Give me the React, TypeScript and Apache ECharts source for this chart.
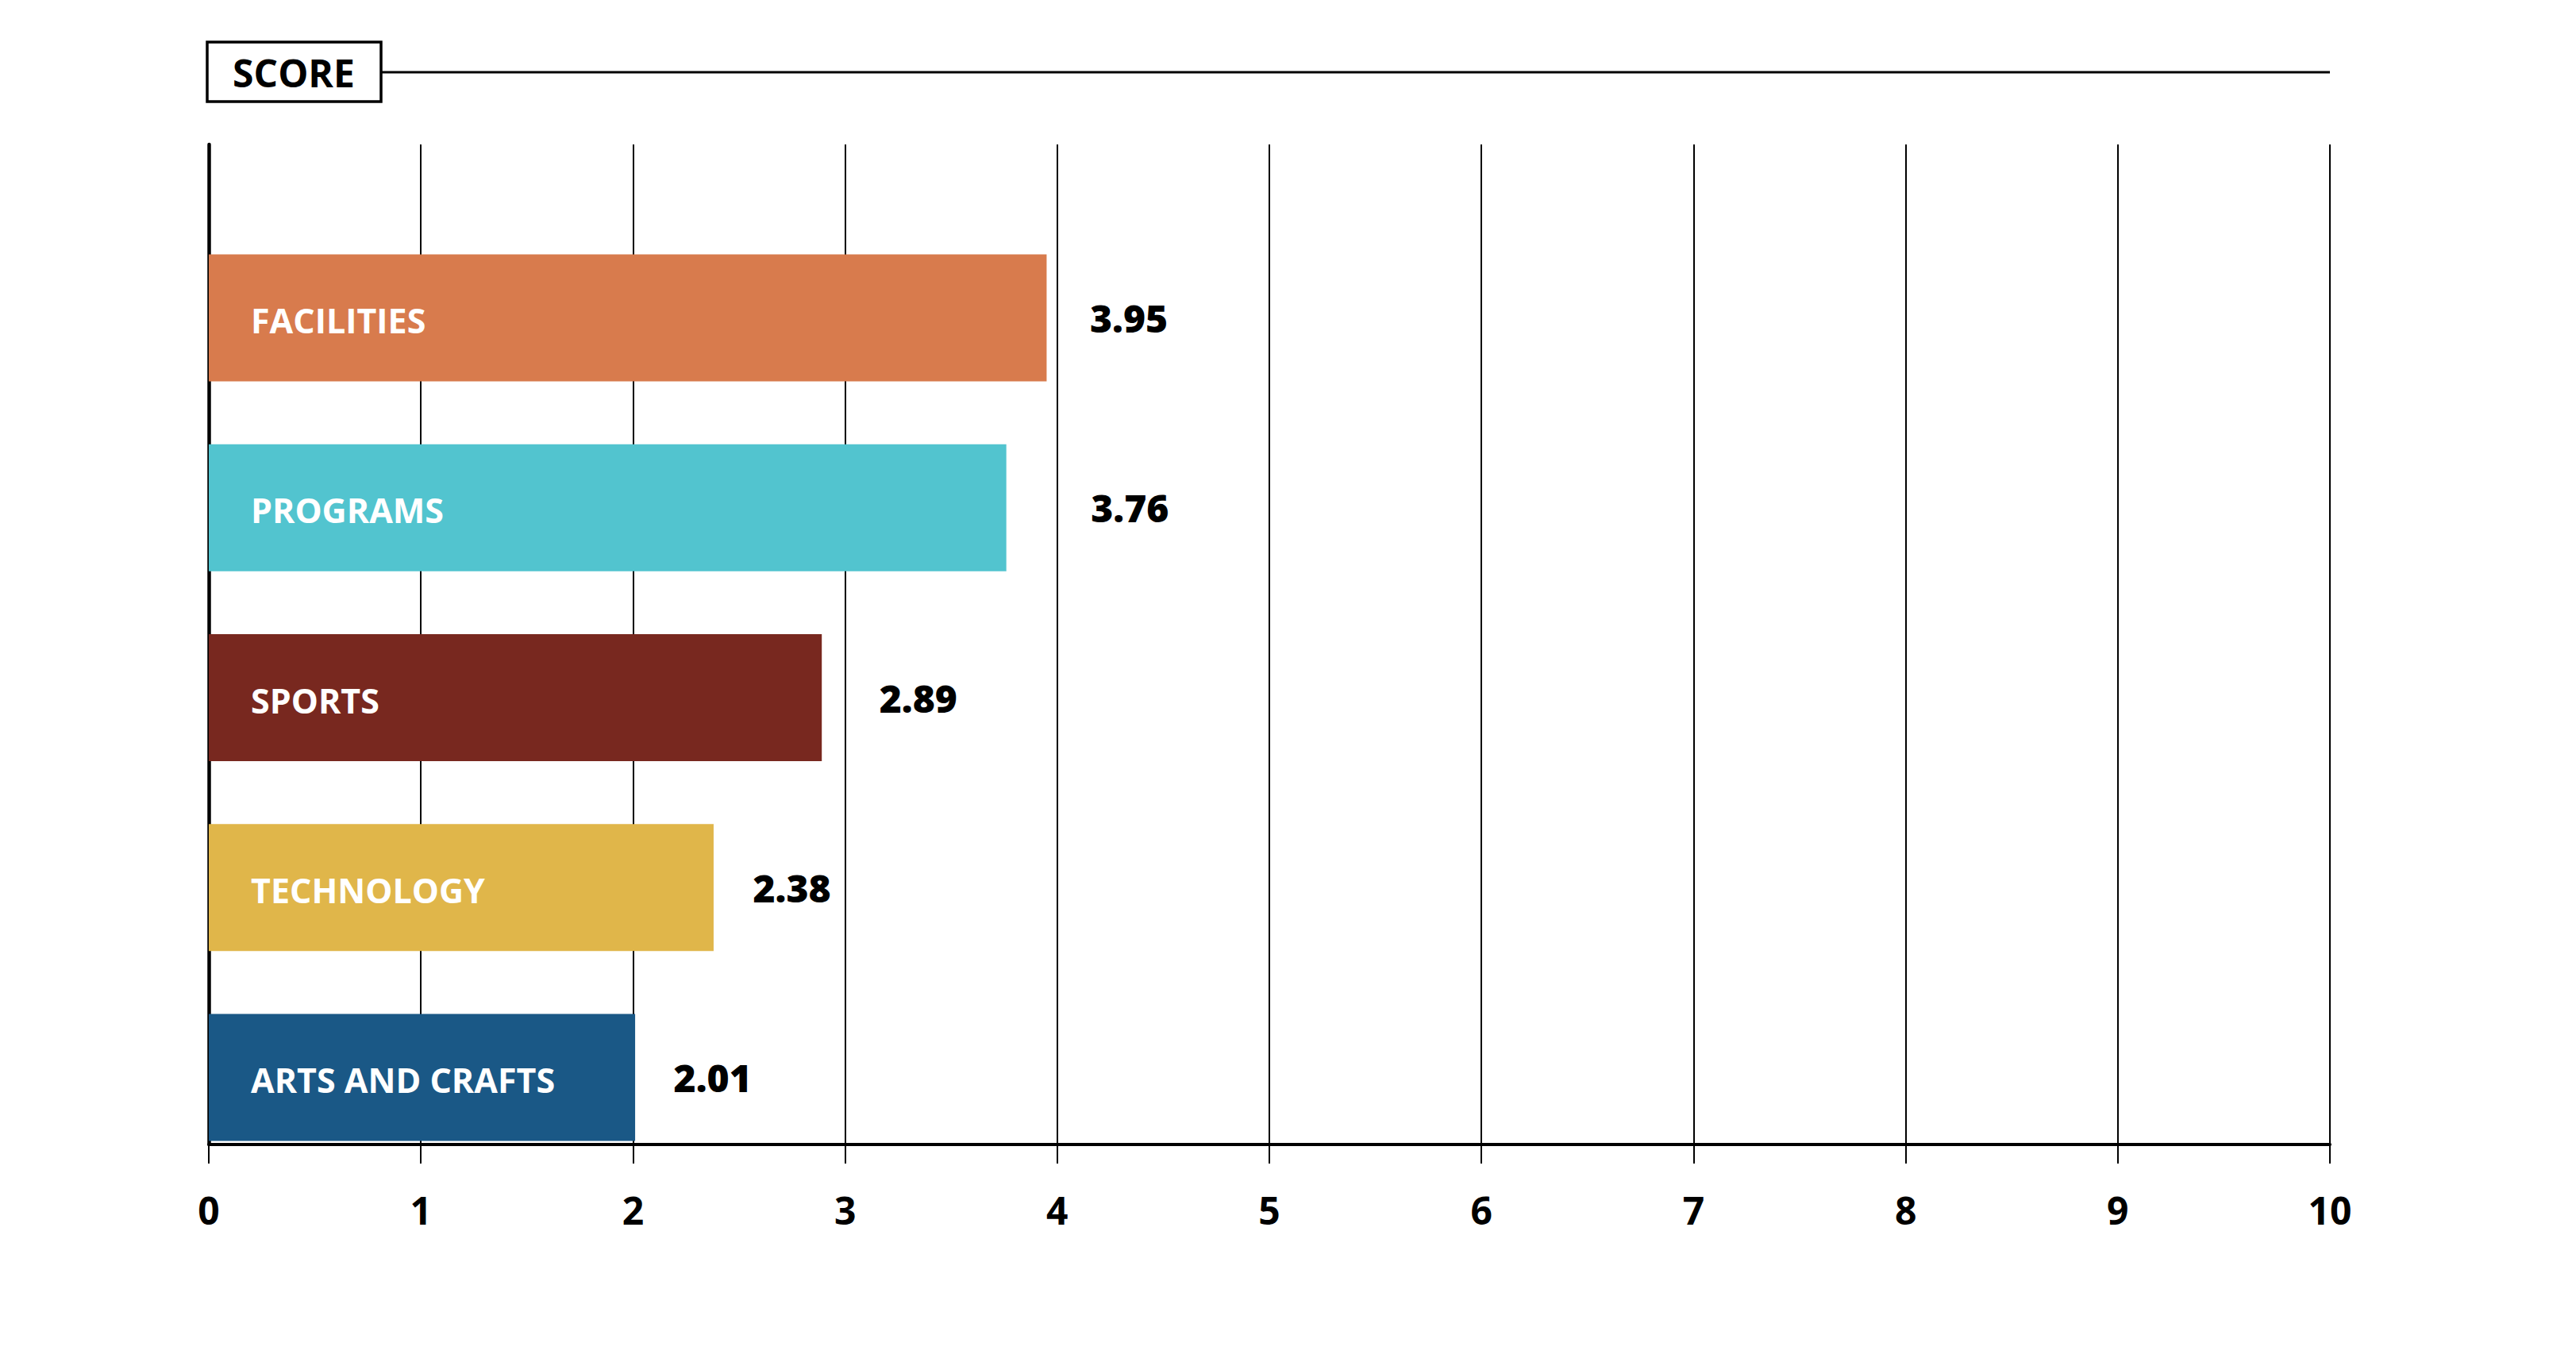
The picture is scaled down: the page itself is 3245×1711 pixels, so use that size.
import React, { useEffect, useRef } from "react";
import * as echarts from "echarts";

const categories = ["FACILITIES", "PROGRAMS", "SPORTS", "TECHNOLOGY", "ARTS AND CRAFTS"];
const scores = [3.95, 3.76, 2.89, 2.38, 2.01];
const barColors = ["#D87B4D", "#52C4CF", "#78281F", "#E0B64A", "#1A5886"];
const valueLabelGaps = [54, 106, 72, 49, 48];
const axisTitle = "SCORE";
const xMin = 0;
const xMax = 10;
const xStep = 1;

const W = 3245;
const H = 1711;
const FONT = "'Open Sans', 'Noto Sans', sans-serif";

export default function App() {
  const ref = useRef<HTMLDivElement>(null);
  useEffect(() => {
    if (!ref.current) return;
    const chart = echarts.init(ref.current, undefined, { renderer: "svg", width: W, height: H });
    const left = 263;
    const right = W - 2935;
    chart.setOption({
      animation: false,
      backgroundColor: "#ffffff",
      grid: [
        { left, right, top: 182, height: 1260 },
        { left, right, top: 281, height: 1196 },
      ],
      xAxis: [
        {
          gridIndex: 0,
          type: "value",
          min: xMin,
          max: xMax,
          interval: xStep,
          axisLine: { show: true, onZero: false, lineStyle: { color: "#000", width: 4 } },
          axisTick: { show: true, length: 24, lineStyle: { color: "#000", width: 2 } },
          splitLine: { show: true, lineStyle: { color: "#000", width: 2 } },
          axisLabel: {
            show: true,
            color: "#000",
            fontSize: 48,
            fontWeight: "bold",
            fontFamily: FONT,
            margin: 58,
          },
        },
        { gridIndex: 1, type: "value", min: xMin, max: xMax, show: false },
      ],
      yAxis: [
        {
          gridIndex: 0,
          type: "value",
          min: 0,
          max: 1,
          axisLine: { show: true, lineStyle: { color: "#000", width: 4.5 } },
          axisTick: { show: false },
          axisLabel: { show: false },
          splitLine: { show: false },
        },
        { gridIndex: 1, type: "category", data: categories, inverse: true, show: false },
      ],
      series: [
        {
          type: "bar",
          xAxisIndex: 1,
          yAxisIndex: 1,
          barWidth: 160,
          data: scores.map((v, i) => ({
            value: v,
            name: categories[i],
            itemStyle: { color: barColors[i] },
          })),
          label: {
            show: true,
            position: "insideLeft",
            distance: 53,
            offset: [0, 3],
            formatter: "{b}",
            color: "#ffffff",
            fontSize: 43,
            fontWeight: "bold",
            fontFamily: FONT,
          },
          z: 3,
        },
        {
          type: "scatter",
          xAxisIndex: 1,
          yAxisIndex: 1,
          symbol: "rect",
          symbolSize: 1,
          itemStyle: { color: "rgba(0,0,0,0)", opacity: 1 },
          data: scores.map((v, i) => ({
            value: [v, categories[i]],
            label: { distance: valueLabelGaps[i] },
          })),
          label: {
            show: true,
            position: "right",
            formatter: (p: any) => p.value[0].toFixed(2),
            color: "#000",
            fontSize: 48,
            fontWeight: 800,
            fontFamily: FONT,
          },
          z: 4,
        },
      ],
      graphic: [
        {
          type: "rect",
          shape: { x: 261, y: 53, width: 219, height: 75 },
          style: { fill: "#ffffff", stroke: "#000", lineWidth: 3.5 },
        },
        {
          type: "text",
          x: 370,
          y: 91,
          style: {
            text: axisTitle,
            align: "center",
            verticalAlign: "middle",
            fill: "#000",
            font: `bold 48px ${FONT}`,
          },
        },
        {
          type: "line",
          shape: { x1: 480, y1: 91, x2: 2935, y2: 91 },
          style: { stroke: "#000", lineWidth: 3 },
        },
      ],
    });
    return () => chart.dispose();
  }, []);
  return (
    <div
      ref={ref}
      style={{ position: "fixed", left: 0, top: 0, width: W, height: H, background: "#fff" }}
    />
  );
}
